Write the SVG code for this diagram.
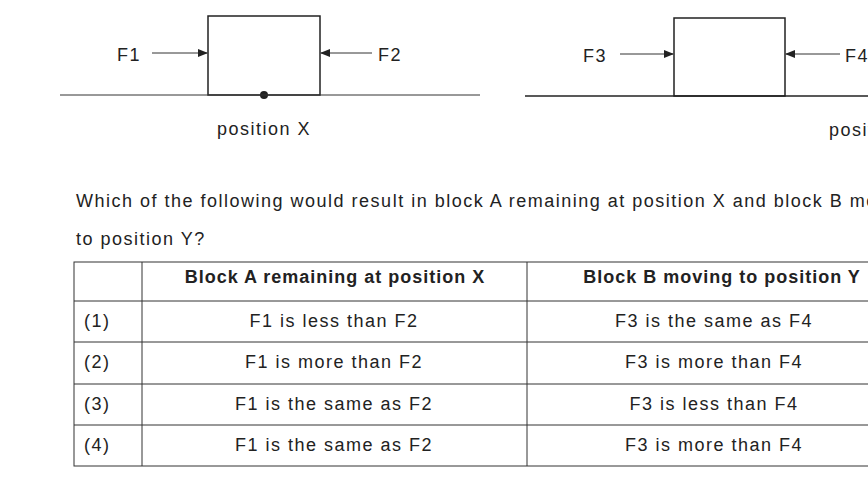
<svg xmlns="http://www.w3.org/2000/svg" width="868" height="491" viewBox="0 0 868 491">
<style>
text{font-family:"Liberation Sans",Arial,sans-serif;font-size:18px;letter-spacing:1.5px;fill:#222}
.b{font-weight:bold;letter-spacing:1px}
.l{stroke:#222;stroke-width:1.5;fill:none}
.t{stroke:#333;stroke-width:1;fill:none}
</style>
<defs><marker id="a" markerWidth="10" markerHeight="8" refX="9" refY="4" orient="auto" markerUnits="userSpaceOnUse"><path d="M0,0L10,4L0,8z" fill="#222"/></marker></defs>
<rect width="868" height="491" fill="#fff"/>
<g id="blockA"><rect x="208" y="16" width="112" height="79" class="l"/><circle cx="264" cy="95" r="4" fill="#222"/></g>
<g id="blockB"><rect x="674" y="18" width="111" height="78" class="l" stroke-width="2"/></g>
<g id="connectors">
<line x1="60" y1="95" x2="480" y2="95" class="t"/>
<line x1="525" y1="96" x2="868" y2="96" class="l" stroke-width="2"/>
<line x1="152" y1="53" x2="207" y2="53" class="t" marker-end="url(#a)"/>
<line x1="372" y1="53" x2="321" y2="53" class="t" marker-end="url(#a)"/>
<line x1="620" y1="54" x2="673" y2="54" class="t" marker-end="url(#a)"/>
<line x1="840" y1="54" x2="786" y2="54" class="t" marker-end="url(#a)"/>
</g>
<text x="117" y="61">F1</text><text x="378" y="61">F2</text>
<text x="583" y="62">F3</text><text x="845" y="62">F4</text>
<text x="264" y="135" text-anchor="middle">position X</text>
<text x="829" y="136">position Y</text>
<text x="76" y="207">Which of the following would result in block A remaining at position X and block B moving</text>
<text x="76" y="245">to position Y?</text>
<g id="table" class="t">
<rect x="74" y="262" width="800" height="204"/>
<line x1="74" y1="301" x2="868" y2="301"/><line x1="74" y1="342" x2="868" y2="342"/>
<line x1="74" y1="384" x2="868" y2="384"/><line x1="74" y1="425" x2="868" y2="425"/>
<line x1="142" y1="262" x2="142" y2="466"/><line x1="527" y1="262" x2="527" y2="466"/>
</g>
<text class="b" x="335" y="283" text-anchor="middle">Block A remaining at position  X</text>
<text class="b" x="722" y="283" text-anchor="middle">Block B moving to position Y</text>
<text x="84" y="327">(1)</text><text x="84" y="368">(2)</text><text x="84" y="410">(3)</text><text x="84" y="451">(4)</text>
<text x="334" y="327" text-anchor="middle">F1 is less than F2</text>
<text x="334" y="368" text-anchor="middle">F1 is more than F2</text>
<text x="334" y="410" text-anchor="middle">F1 is the same as F2</text>
<text x="334" y="451" text-anchor="middle">F1 is the same as F2</text>
<text x="714" y="327" text-anchor="middle">F3 is the same as F4</text>
<text x="714" y="368" text-anchor="middle">F3 is more than F4</text>
<text x="714" y="410" text-anchor="middle">F3 is less than F4</text>
<text x="714" y="451" text-anchor="middle">F3 is more than F4</text>
</svg>
